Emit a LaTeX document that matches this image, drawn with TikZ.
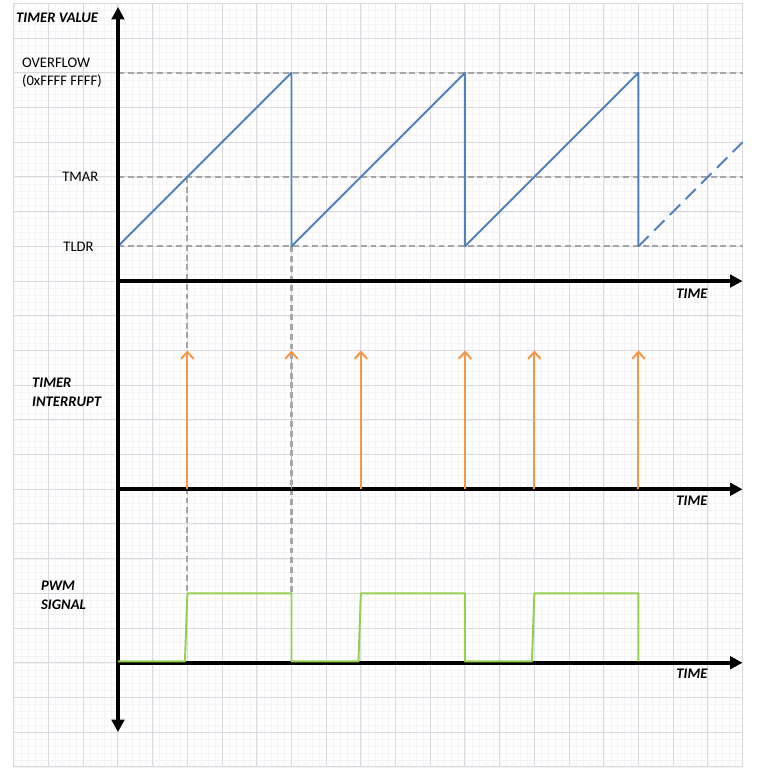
\documentclass[tikz,border=0pt]{standalone}
\usepackage{fontspec}
\setmainfont{Carlito}
\usetikzlibrary{arrows.meta}
\definecolor{gridMajor}{HTML}{D9D9DF}
\definecolor{gridMinor}{HTML}{F4F4F7}
\definecolor{refGrey}{HTML}{A6A6A6}
\definecolor{sawBlue}{HTML}{4F81BD}
\definecolor{irqOrange}{HTML}{F79646}
\definecolor{pwmGreen}{HTML}{92D050}
\tikzset{
  font=\fontsize{12}{15}\selectfont,
  axis/.style={draw=black, line width=3.3pt},
  haxis/.style={axis, -{Triangle[length=3.6mm, width=3.6mm]}},
  vaxis/.style={axis, {Triangle[length=3.6mm, width=3.6mm]}-{Triangle[length=3.6mm, width=3.6mm]}},
  level/.style={draw=refGrey, line width=1.8pt, dash pattern=on 1.7mm off 1.1mm},
  saw/.style={draw=sawBlue, line width=1.6pt, line join=round},
  sawnext/.style={saw, dash pattern=on 4.2mm off 2.2mm},
  irq/.style={draw=irqOrange, line width=1.6pt, -{Straight Barb[length=2mm, width=3.6mm]}},
  pwm/.style={draw=pwmGreen, line width=1.6pt, line join=round},
  axislbl/.style={font=\fontsize{12}{15}\selectfont\bfseries\itshape, inner sep=0pt, align=left},
  levellbl/.style={inner sep=0pt, align=left},
}

\begin{document}
\begin{tikzpicture}
  % --- page and background grid ---
  \useasboundingbox[fill=white] (-3.40,-3.35) rectangle (18.70,19.10);
  \draw[gridMinor, line width=0.25pt, step=0.2] (-3,-3) grid (18,19);
  \draw[gridMajor, line width=0.8pt] (-3,-3) grid (18,19);

  % --- axis ends ---
  \coordinate (valtop) at (0,18.9);
  \coordinate (valbot) at (0,-2);
  \coordinate (cnt0)   at (0,11);
  \coordinate (cntend) at (18,11);
  \coordinate (irq0)   at (0,5);
  \coordinate (irqend) at (18,5);
  \coordinate (pwm0)   at (0,0);
  \coordinate (pwmend) at (18,0);

  % --- counter levels ---
  \coordinate (ovfl)  at (0,17);
  \coordinate (ovfr)  at (18,17);
  \coordinate (tmarl) at (0,14);
  \coordinate (tmarr) at (18,14);
  \coordinate (tldrl) at (0,12);
  \coordinate (tldrr) at (18,12);
  \draw[level] (ovfl) -- (ovfr);
  \draw[level] (tmarl) -- (tmarr);
  \draw[level] (tldrl) -- (tldrr);

  % --- match / overflow drop lines down to the PWM edges ---
  \coordinate (match1) at (2,14);
  \coordinate (rise1)  at (2,2);
  \coordinate (wrap1)  at (5,12);
  \coordinate (fall1)  at (5,2);
  \draw[level] (match1) -- (rise1);
  \draw[level] (wrap1) -- (fall1);

  % --- timer value sawtooth ---
  \draw[saw] (tldrl) -- (5,17) -- (5,12) -- (10,17) -- (10,12) -- (15,17) -- (15,12);
  \draw[sawnext] (15,12) -- (18,15);

  % --- axes ---
  \draw[vaxis] (valbot) -- (valtop);
  \draw[haxis] (cnt0) -- (cntend);
  \draw[haxis] (irq0) -- (irqend);
  \draw[haxis] (pwm0) -- (pwmend);

  % --- interrupts ---
  \coordinate (int1) at (2,5);
  \coordinate (int2) at (5,5);
  \coordinate (int3) at (7,5);
  \coordinate (int4) at (10,5);
  \coordinate (int5) at (12,5);
  \coordinate (int6) at (15,5);
  \draw[irq] (int1) -- ++(0,4);
  \draw[irq] (int2) -- ++(0,4);
  \draw[irq] (int3) -- ++(0,4);
  \draw[irq] (int4) -- ++(0,4);
  \draw[irq] (int5) -- ++(0,4);
  \draw[irq] (int6) -- ++(0,4);

  % --- PWM output ---
  \draw[pwm] (0,0.04) -- (1.93,0.04) -- (2,2) -- (5,2) -- (5,0.04) -- (6.93,0.04) -- (7,2)
    -- (10,2) -- (10,0.04) -- (11.93,0.04) -- (12,2) -- (15,2) -- (15,0.04);

  % --- labels ---
  \node[axislbl, anchor=west]  (valname) at (-2.94,18.58) {TIMER VALUE};
  \node[levellbl, anchor=west] (ovfname) at (-2.77,17.0)  {OVERFLOW\\(0xFFFF FFFF)};
  \node[levellbl, anchor=west] (tmarname) at (-1.61,14.0) {TMAR};
  \node[levellbl, anchor=west] (tldrname) at (-1.58,11.98) {TLDR};
  \node[axislbl, anchor=west]  (irqname) at (-2.48,7.79)  {TIMER\\INTERRUPT};
  \node[axislbl, anchor=west]  (pwmname) at (-2.22,1.94)  {PWM\\SIGNAL};
  \node[axislbl] (time1) at (16.54,10.63) {TIME};
  \node[axislbl] (time2) at (16.54,4.68)  {TIME};
  \node[axislbl] (time3) at (16.54,-0.31) {TIME};
\end{tikzpicture}
\end{document}
